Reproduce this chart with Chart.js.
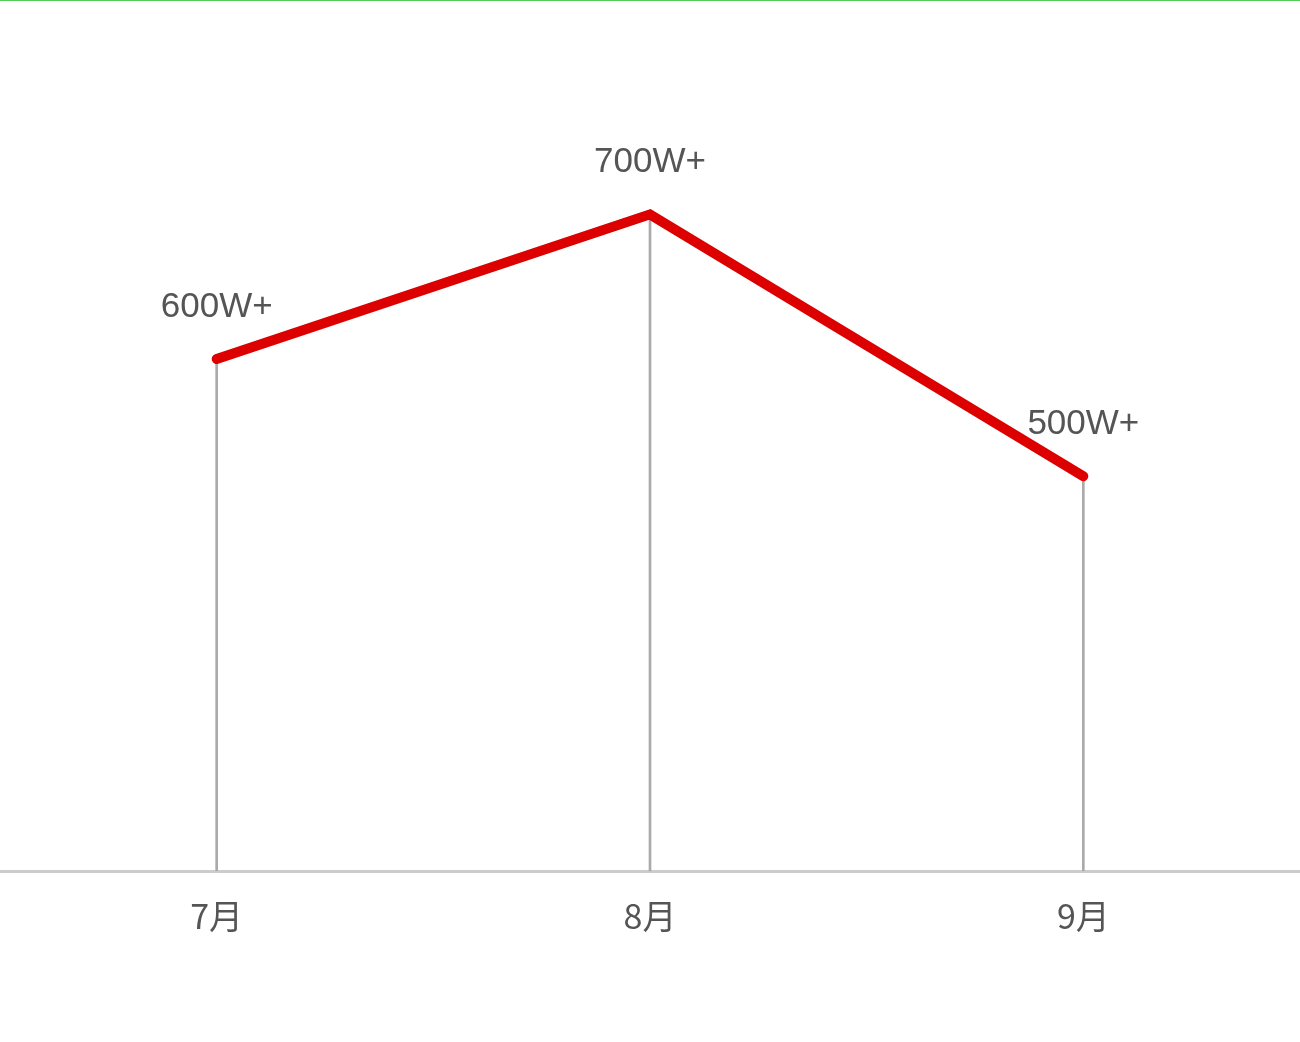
<!DOCTYPE html>
<html><head><meta charset="utf-8">
<script src="https://cdn.jsdelivr.net/npm/chart.js@4/dist/chart.umd.min.js"></script>
<style>html,body{margin:0;padding:0;background:#fff;overflow:hidden}
#top{position:absolute;left:0;top:0;width:1300px;height:1px;background:#5c5;z-index:2}
#wrap{position:absolute;left:0;top:0;width:1300px;height:1042px}</style>
</head><body><div id="top"></div><div id="wrap"><canvas id="c"></canvas></div>
<script>
const categories = ['7月','8月','9月'];
const values = [620, 795, 478];
const pointLabels = ['600W+','700W+','500W+'];

const labelPlugin = {
  id:'lbl',
  afterDatasetsDraw(chart){
    const ctx=chart.ctx, meta=chart.getDatasetMeta(1);
    ctx.save();
    ctx.font='35px "Liberation Sans", Arial, sans-serif';
    ctx.fillStyle='#555';ctx.textAlign='center';ctx.textBaseline='alphabetic';
    meta.data.forEach((p,i)=>{ctx.fillText(pointLabels[i], p.x, p.y-42);});
    ctx.restore();
  }
};
new Chart(document.getElementById('c'),{
  data:{labels:categories,datasets:[
    {type:'bar',data:values,backgroundColor:'#aaa',barThickness:2,order:2},
    {type:'line',data:values,borderColor:'#dd0000',borderWidth:10,pointRadius:0,tension:0,borderCapStyle:'round',order:1}
  ]},
  options:{responsive:true,maintainAspectRatio:false,animation:false,
    layout:{padding:{left:-6,right:-8,top:45,bottom:90}},
    plugins:{legend:{display:false},tooltip:{enabled:false}},
    scales:{
      x:{offset:true,grid:{display:false},border:{color:'#ccc',width:3},
         ticks:{color:'#555',font:{size:34,family:'"Noto Sans CJK SC", sans-serif'},padding:16}},
      y:{min:0,max:1000,display:false}
    }},
  plugins:[labelPlugin]
});
</script></body></html>
